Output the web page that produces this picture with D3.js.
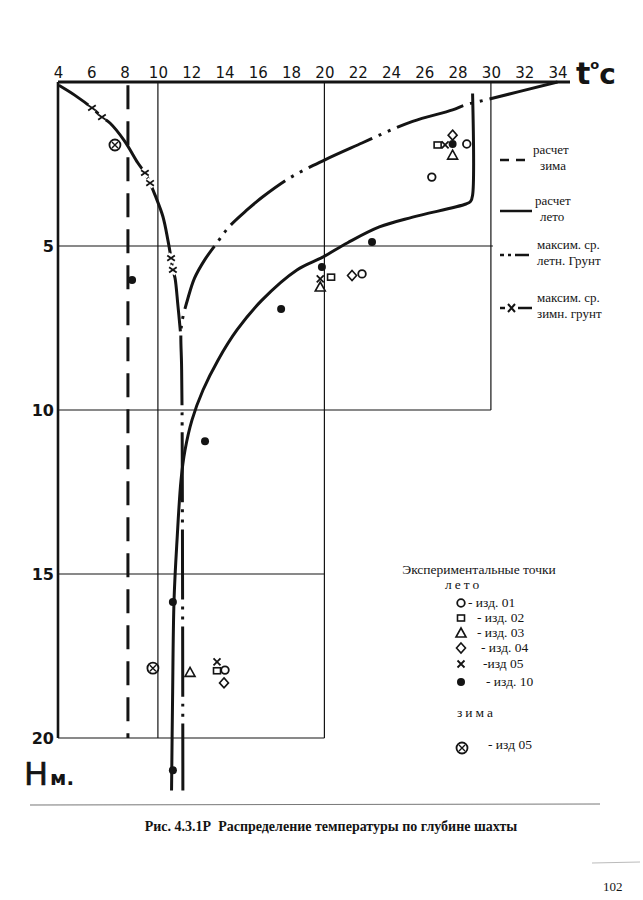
<!DOCTYPE html>
<html><head><meta charset="utf-8">
<script src="https://cdn.jsdelivr.net/npm/d3@7"></script>
<style>body{margin:0;background:#fff}svg{display:block}</style>
</head><body>
<script>
// ---------- data ----------
const tempTicks = [4,6,8,10,12,14,16,18,20,22,24,26,28,30,32,34];
const depthTicks = [5,10,15,20];
// calculated winter (constant)
const calcWinter = [[8.2,0.1],[8.2,20]];
// calculated summer
const calcSummer = [[28.9,0.35],[28.9,3.45],[28.78,3.64],[28.5,3.72],[25.3,4.12],[23.3,4.42],[21.4,4.9],[19.9,5.34],[18.35,5.73],[16.25,6.65],[14.75,7.56],[13.61,8.48],[12.71,9.39],[12.05,10.3],[11.63,11.22],[11.39,12.13],[11.15,13.96],[10.97,15.79],[10.88,18.84],[10.82,21.6]];
// max average summer ground
const groundSummer = [[34,0],[29.65,0.55],[28.45,0.7],[27.7,0.85],[25.3,1.2],[23.3,1.62],[22.26,1.86],[20,2.38],[18,2.9],[16.3,3.5],[15.35,3.9],[14.3,4.4],[13.55,4.9],[12.8,5.43],[12.2,5.98],[11.8,6.6],[11.45,7.3],[11.38,7.7],[11.42,8.6],[11.45,10],[11.48,15],[11.5,21.6]];
// max average winter ground
const groundWinter = [[4.05,0.1],[5.0,0.4],[6.04,0.79],[6.64,1.07],[7.12,1.25],[8.0,1.8],[8.8,2.47],[9.22,2.77],[9.53,3.08],[9.83,3.45],[10.3,4.1],[10.6,4.82],[10.79,5.37],[10.9,5.73],[11.03,5.98],[11.2,6.8],[11.35,7.6]];
const groundWinterMarks = [[6.04,0.79],[6.64,1.07],[9.22,2.77],[9.53,3.08],[10.79,5.37],[10.9,5.73]];
// experimental points, summer
const izd01 = [[28.55,1.89],[26.45,2.9],[22.26,5.85],[14.03,17.93]];
const izd02 = [[26.8,1.92],[20.4,5.95],[13.55,17.95]];
const izd03 = [[27.7,2.23],[19.75,6.25],[11.93,18.0]];
const izd04 = [[27.7,1.62],[21.66,5.9],[13.97,18.32]];
const izd05 = [[27.25,1.92],[19.75,6.0],[13.55,17.68]];
const izd10 = [[27.7,1.89],[22.86,4.88],[19.85,5.64],[17.4,6.92],[8.45,6.04],[12.83,10.95],[10.9,15.85],[10.9,20.98]];
// experimental points, winter
const izd05w = [[7.42,1.92],[9.7,17.87]];

// ---------- drawing ----------
const W=643,H=900, ink="#141414";
const svg=d3.select("body").append("svg").attr("width",W).attr("height",H);
const x=d3.scaleLinear().domain([4,34]).range([58,557.5]);
const y=d3.scaleLinear().domain([0,20]).range([82,738]);

// grid
const grid=svg.append("g").attr("stroke",ink).attr("stroke-width",1.2);
grid.append("line").attr("x1",x(10)).attr("x2",x(10)).attr("y1",y(0)).attr("y2",y(20));
grid.append("line").attr("x1",x(20)).attr("x2",x(20)).attr("y1",y(0)).attr("y2",y(20));
grid.append("line").attr("x1",x(30)).attr("x2",x(30)).attr("y1",y(0)).attr("y2",y(10));
grid.append("line").attr("x1",x(4)).attr("x2",x(30)+2).attr("y1",y(5)).attr("y2",y(5));
grid.append("line").attr("x1",x(4)).attr("x2",x(30)).attr("y1",y(10)).attr("y2",y(10));
grid.append("line").attr("x1",x(4)).attr("x2",x(20)).attr("y1",y(15)).attr("y2",y(15));
grid.append("line").attr("x1",x(4)).attr("x2",x(20)).attr("y1",y(20)).attr("y2",y(20));

// axes
const topAxis=svg.append("g").attr("transform",`translate(0,${y(0)})`)
  .call(d3.axisTop(x).tickValues(tempTicks).tickSize(0).tickPadding(4).tickFormat(d3.format("d")));
topAxis.select(".domain").remove();
topAxis.selectAll("text").attr("font-family","DejaVu Sans").attr("font-size",15).attr("fill",ink);
svg.append("line").attr("x1",x(4)).attr("x2",570).attr("y1",y(0)).attr("y2",y(0)).attr("stroke",ink).attr("stroke-width",3);
svg.append("line").attr("x1",x(4)).attr("x2",x(4)).attr("y1",y(0)).attr("y2",y(20)).attr("stroke",ink).attr("stroke-width",2.6);
const leftAxis=svg.append("g").attr("transform",`translate(${x(4)},0)`)
  .call(d3.axisLeft(y).tickValues(depthTicks).tickSize(0).tickPadding(4).tickFormat(d3.format("d")));
leftAxis.select(".domain").remove();
leftAxis.selectAll("text").attr("font-family","DejaVu Sans").attr("font-weight","bold").attr("font-size",16).attr("fill",ink);

// unit labels
const tl=svg.append("text").attr("x",576).attr("y",84).attr("font-family","DejaVu Sans").attr("font-weight","bold").attr("fill",ink);
tl.append("tspan").attr("font-size",30).text("t");
tl.append("tspan").attr("font-size",13).attr("dy",-15).text("o");
tl.append("tspan").attr("font-size",28).attr("dy",15).text("c");
const hl=svg.append("text").attr("x",24).attr("y",785).attr("font-family","DejaVu Sans").attr("fill",ink);
hl.append("tspan").attr("font-size",32).attr("stroke",ink).attr("stroke-width",0.6).text("Н");
hl.append("tspan").attr("font-size",20).attr("dx",2).attr("font-weight","bold").text("м.");

// curves
const line=d3.line().x(d=>x(d[0])).y(d=>y(d[1])).curve(d3.curveCatmullRom.alpha(0.5));
svg.append("path").attr("d",line(calcWinter)).attr("fill","none").attr("stroke",ink).attr("stroke-width",3).attr("stroke-dasharray","24,12");
svg.append("path").attr("d",line(calcSummer)).attr("fill","none").attr("stroke",ink).attr("stroke-width",3);
svg.append("path").attr("d",line(groundSummer)).attr("fill","none").attr("stroke",ink).attr("stroke-width",3).attr("stroke-dasharray","70,7,3,7,3,7");
svg.append("path").attr("d",line(groundWinter)).attr("fill","none").attr("stroke",ink).attr("stroke-width",3);

// marker helpers
function xMark(g,cx,cy,s){
  const p=`M${cx-s},${cy-s*0.7}L${cx+s},${cy+s*0.7}M${cx+s},${cy-s*0.7}L${cx-s},${cy+s*0.7}`;
  g.append("path").attr("d",p).attr("stroke","#fff").attr("stroke-width",7);
  g.append("path").attr("d",p).attr("stroke",ink).attr("stroke-width",1.8);
}
function marker(g,type,cx,cy){
  if(type==="circle") g.append("circle").attr("cx",cx).attr("cy",cy).attr("r",3.8).attr("fill","#fff").attr("stroke",ink).attr("stroke-width",1.8);
  else if(type==="square") g.append("rect").attr("x",cx-3.5).attr("y",cy-3).attr("width",7).attr("height",6).attr("fill","#fff").attr("stroke",ink).attr("stroke-width",1.6);
  else if(type==="triangle") g.append("path").attr("d",`M${cx},${cy-5}L${cx+5},${cy+4}L${cx-5},${cy+4}Z`).attr("fill","#fff").attr("stroke",ink).attr("stroke-width",1.6);
  else if(type==="diamond") g.append("path").attr("d",`M${cx},${cy-5}L${cx+4.5},${cy}L${cx},${cy+5}L${cx-4.5},${cy}Z`).attr("fill","#fff").attr("stroke",ink).attr("stroke-width",1.6);
  else if(type==="x"){ const p=`M${cx-3.5},${cy-3.5}L${cx+3.5},${cy+3.5}M${cx+3.5},${cy-3.5}L${cx-3.5},${cy+3.5}`; g.append("path").attr("d",p).attr("stroke",ink).attr("stroke-width",1.8);}
  else if(type==="dot") g.append("circle").attr("cx",cx).attr("cy",cy).attr("r",4).attr("fill",ink);
  else if(type==="otimes"){ g.append("circle").attr("cx",cx).attr("cy",cy).attr("r",5.5).attr("fill","#fff").attr("stroke",ink).attr("stroke-width",1.8);
    g.append("path").attr("d",`M${cx-3},${cy-3}L${cx+3},${cy+3}M${cx+3},${cy-3}L${cx-3},${cy+3}`).attr("stroke",ink).attr("stroke-width",1.4);}
}
const mk=svg.append("g");
groundWinterMarks.forEach(d=>xMark(mk,x(d[0]),y(d[1]),3.8));
[["circle",izd01],["square",izd02],["triangle",izd03],["diamond",izd04],["x",izd05],["dot",izd10],["otimes",izd05w]]
  .forEach(([t,arr])=>arr.forEach(d=>marker(mk,t,x(d[0]),y(d[1]))));

// right legend (lines)
const serif="Liberation Serif";
const lg=svg.append("g").attr("font-family",serif).attr("font-size",13).attr("fill",ink);
const L=[{y:160,dash:"9,7",t:["расчет","зима"],tx:[533,540]},
         {y:211,dash:null,t:["расчет","лето"],tx:[535,540]},
         {y:255,dash:"4,4,3,4,14",t:["максим. ср.","летн. Грунт"],tx:[537,537]},
         {y:308,dash:"x",t:["максим. ср.","зимн. грунт"],tx:[537,537]}];
L.forEach(o=>{
  if(o.dash==="x"){
    lg.append("line").attr("x1",500).attr("x2",505).attr("y1",o.y).attr("y2",o.y).attr("stroke",ink).attr("stroke-width",2.5);
    lg.append("line").attr("x1",518).attr("x2",532).attr("y1",o.y).attr("y2",o.y).attr("stroke",ink).attr("stroke-width",2.5);
    lg.append("path").attr("d",`M508,${o.y-4}L515,${o.y+4}M515,${o.y-4}L508,${o.y+4}`).attr("stroke",ink).attr("stroke-width",2);
  } else {
    lg.append("line").attr("x1",500).attr("x2",532).attr("y1",o.y).attr("y2",o.y).attr("stroke",ink).attr("stroke-width",2.5).attr("stroke-dasharray",o.dash);
  }
  lg.append("text").attr("x",o.tx[0]).attr("y",o.y-6).text(o.t[0]);
  lg.append("text").attr("x",o.tx[1]).attr("y",o.y+10).text(o.t[1]);
});

// experimental legend
const eg=svg.append("g").attr("font-family",serif).attr("font-size",13.5).attr("fill",ink);
eg.append("text").attr("x",479).attr("y",574).attr("text-anchor","middle").text("Экспериментальные точки");
eg.append("text").attr("x",445).attr("y",589).attr("letter-spacing",3).text("лето");
const items=[["circle",603,"- изд. 01",468],["square",618,"- изд. 02",477],["triangle",633,"- изд. 03",477],["diamond",648,"- изд. 04",481],["x",664,"-изд 05",483],["dot",682,"- изд. 10",486]];
items.forEach(([t,yy,lab,tx])=>{ marker(eg,t,461,yy); eg.append("text").attr("x",tx).attr("y",yy+4).text(lab); });
eg.append("text").attr("x",457).attr("y",717).attr("letter-spacing",3).text("зима");
marker(eg,"otimes",462,748); eg.append("text").attr("x",488).attr("y",749).text("- изд 05");

// page elements
svg.append("line").attr("x1",30).attr("x2",600).attr("y1",805).attr("y2",804).attr("stroke","#777").attr("stroke-width",1);
svg.append("line").attr("x1",592).attr("x2",640).attr("y1",863).attr("y2",862).attr("stroke","#bbb").attr("stroke-width",1);
svg.append("text").attr("x",331).attr("y",831).attr("text-anchor","middle").attr("font-family",serif).attr("font-weight","bold").attr("font-size",14).attr("fill",ink)
  .attr("xml:space","preserve").text("Рис. 4.3.1Р  Распределение температуры по глубине шахты");
svg.append("text").attr("x",603).attr("y",891).attr("font-family",serif).attr("font-size",13).attr("fill",ink).text("102");
</script>
</body></html>
